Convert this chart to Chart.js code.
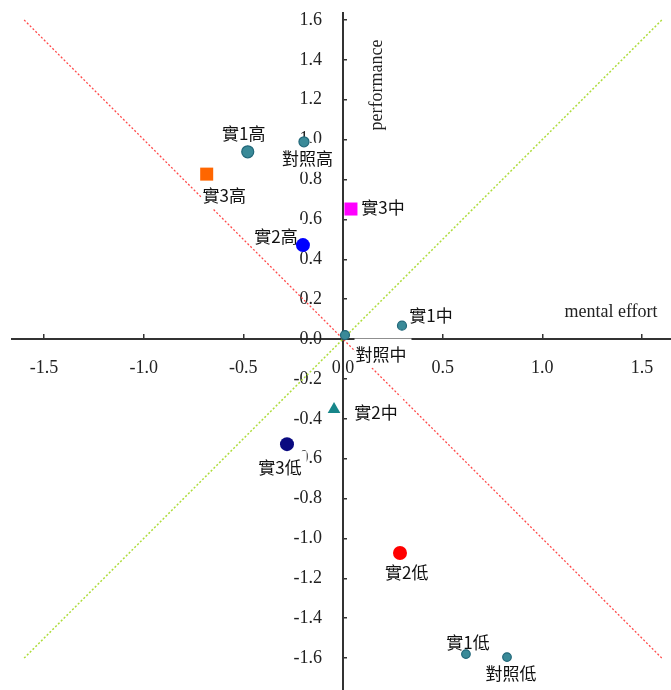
<!DOCTYPE html>
<html>
<head>
<meta charset="utf-8">
<script src="https://cdn.jsdelivr.net/npm/chart.js@4.4.0/dist/chart.umd.min.js"></script>
<style>
  html, body { margin: 0; padding: 0; background: #fff; }
  canvas { display: block; }
</style>
</head>
<body>
<canvas id="chart" width="671" height="690"></canvas>
<script>
// valores (x = mental effort, y = performance)
const groups = ['對照', '實1', '實2', '實3'];
const levels = ['高', '中', '低'];

const controlEffort = [-0.196, 0.010, 0.823];
const controlPerf   = [0.989, 0.020, -1.595];
const exp1Effort    = [-0.478, 0.296, 0.617];
const exp1Perf      = [0.939, 0.067, -1.580];
const exp2Effort    = [-0.201, -0.045, 0.286];
const exp2Perf      = [0.471, -0.352, -1.073];
const exp3Effort    = [-0.684, 0.040, -0.281];
const exp3Perf      = [0.827, 0.652, -0.527];

const xTicks = [-1.5, -1.0, -0.5, 0.0, 0.5, 1.0, 1.5];
const yTicks = [-1.6, -1.4, -1.2, -1.0, -0.8, -0.6, -0.4, -0.2, 0.0, 0.2, 0.4, 0.6, 0.8, 1.0, 1.2, 1.4, 1.6];
const guideEnds = [-1.6, 1.6];

// estilos
const teal = '#3A8A98';
const tealEdge = '#22687A';
const groupStyles = [
    { color: [teal, teal, teal], edge: [tealEdge, tealEdge, tealEdge], shape: ['circle', 'circle', 'circle'], radius: [5, 4.5, 4.3] },
    { color: [teal, teal, teal], edge: [tealEdge, tealEdge, tealEdge], shape: ['circle', 'circle', 'circle'], radius: [6, 4.5, 4.3] },
    { color: ['#0000FF', '#17868A', '#FF0000'], edge: ['#0000FF', '#17868A', '#FF0000'], shape: ['circle', 'triangle', 'circle'], radius: [7, 7.3, 7] },
    { color: ['#FF6600', '#FF00FF', '#0A0A80'], edge: ['#FF6600', '#FF00FF', '#0A0A80'], shape: ['rect', 'rect', 'circle'], radius: [9.2, 9.2, 7] }
];
// desplazamiento de cada etiqueta (px) respecto a su punto
const labelOffsets = [
    [[3.5, 17], [36, 19.5], [4, 16]],
    [[-4, -18], [29, -10], [2, -12]],
    [[-27, -9], [42, 3], [6.7, 19.5]],
    [[17.6, 21.7], [32, -1.5], [-7, 23]]
];

const effortSeries = [controlEffort, exp1Effort, exp2Effort, exp3Effort];
const perfSeries = [controlPerf, exp1Perf, exp2Perf, exp3Perf];

const serif = '"Liberation Serif", "Times New Roman", serif';
const cjk = '"Noto Sans CJK TC", "Noto Sans CJK SC", sans-serif';

function buildDatasets() {
    const sets = groups.map((g, i) => ({
        label: g,
        type: 'scatter',
        order: 0,
        data: effortSeries[i].map((x, j) => ({ x: x, y: perfSeries[i][j] })),
        backgroundColor: groupStyles[i].color,
        borderColor: groupStyles[i].edge,
        borderWidth: i < 2 ? 1.2 : 0,
        pointStyle: groupStyles[i].shape,
        pointRadius: groupStyles[i].radius
    }));
    // diagonales punteadas
    sets.push({
        label: 'guide-down',
        type: 'scatter',
        order: 1,
        showLine: true,
        data: [{ x: guideEnds[0], y: guideEnds[1] }, { x: guideEnds[1], y: guideEnds[0] }],
        borderColor: '#FF4A4A',
        borderWidth: 1.3,
        borderDash: [2, 2],
        pointRadius: 0
    });
    sets.push({
        label: 'guide-up',
        type: 'scatter',
        order: 1,
        showLine: true,
        data: [{ x: guideEnds[0], y: guideEnds[0] }, { x: guideEnds[1], y: guideEnds[1] }],
        borderColor: '#AEDC3C',
        borderWidth: 1.5,
        borderDash: [2, 2],
        pointRadius: 0
    });
    return sets;
}

const labelAfterIndex = groups.length; // se dibujan tras las diagonales y antes de los puntos

function noPadding(scale) {
    scale.paddingLeft = 0;
    scale.paddingRight = 0;
    scale.paddingTop = 0;
    scale.paddingBottom = 0;
}

function drawPointLabels(chart) {
    const ctx = chart.ctx;
    ctx.save();
    ctx.font = '17px ' + cjk;
    ctx.textAlign = 'center';
    ctx.textBaseline = 'middle';
    groups.forEach((g, i) => {
        const meta = chart.getDatasetMeta(i);
        levels.forEach((lv, j) => {
            const pt = meta.data[j];
            const text = g + lv;
            const cx = pt.x + labelOffsets[i][j][0];
            const cy = pt.y + labelOffsets[i][j][1];
            const w = ctx.measureText(text).width;
            ctx.fillStyle = '#fff';
            ctx.fillRect(cx - w / 2 - 1, cy - 16, w + 6, 29);
            ctx.fillStyle = '#111';
            ctx.fillText(text, cx, cy);
        });
    });
    ctx.restore();
}

function drawAxisTitles(chart) {
    const ctx = chart.ctx;
    const xs = chart.scales.x;
    const ys = chart.scales.y;
    ctx.save();
    ctx.font = '18px ' + serif;
    ctx.fillStyle = '#222';
    ctx.textAlign = 'center';
    ctx.textBaseline = 'middle';
    ctx.fillText('mental effort', chart.chartArea.right - 60, ys.getPixelForValue(0) - 27);
    ctx.translate(xs.getPixelForValue(0) + 34, chart.chartArea.top + 72);
    ctx.rotate(-Math.PI / 2);
    ctx.fillText('performance', 0, 0);
    ctx.restore();
}

const overlayPlugin = {
    id: 'overlay',
    afterDatasetDraw(chart, args) {
        if (args.index === labelAfterIndex) drawPointLabels(chart);
    },
    afterDraw(chart) {
        drawAxisTitles(chart);
    }
};

const tickFont = { family: serif, size: 18 };

new Chart(document.getElementById('chart'), {
    type: 'scatter',
    data: { datasets: buildDatasets() },
    options: {
        responsive: false,
        animation: false,
        events: [],
        layout: { autoPadding: false, padding: { left: 12, right: 0, top: 13, bottom: 0 } },
        plugins: { legend: { display: false }, tooltip: { enabled: false } },
        scales: {
            x: {
                type: 'linear',
                position: { y: 0 },
                min: -1.661,
                max: 1.646,
                afterBuildTicks: s => { s.ticks = xTicks.map(v => ({ value: v })); },
                afterFit: noPadding,
                grid: { drawOnChartArea: false, tickLength: -6, color: '#333', lineWidth: 1.5 },
                border: { color: '#333', width: 2 },
                ticks: {
                    autoSkip: false,
                    maxRotation: 0,
                    padding: 24,
                    color: '#222',
                    font: tickFont,
                    callback: v => Number(v).toFixed(1)
                }
            },
            y: {
                type: 'linear',
                position: { x: 0 },
                min: -1.76,
                max: 1.635,
                afterBuildTicks: s => { s.ticks = yTicks.map(v => ({ value: v })); },
                afterFit: noPadding,
                grid: { drawOnChartArea: false, tickLength: -5, color: '#333', lineWidth: 1.5 },
                border: { color: '#333', width: 2 },
                ticks: { display: false }
            },
            // eje auxiliar solo para los rótulos de performance, algo a la izquierda del eje
            yLabels: {
                axis: 'y',
                type: 'linear',
                position: { x: -0.105 },
                min: -1.76,
                max: 1.635,
                afterBuildTicks: s => { s.ticks = yTicks.map(v => ({ value: v })); },
                afterFit: noPadding,
                grid: { display: false, drawTicks: false },
                border: { display: false },
                ticks: {
                    autoSkip: false,
                    color: '#222',
                    font: tickFont,
                    callback: v => Number(v).toFixed(1)
                }
            }
        }
    },
    plugins: [overlayPlugin]
});
</script>
</body>
</html>
